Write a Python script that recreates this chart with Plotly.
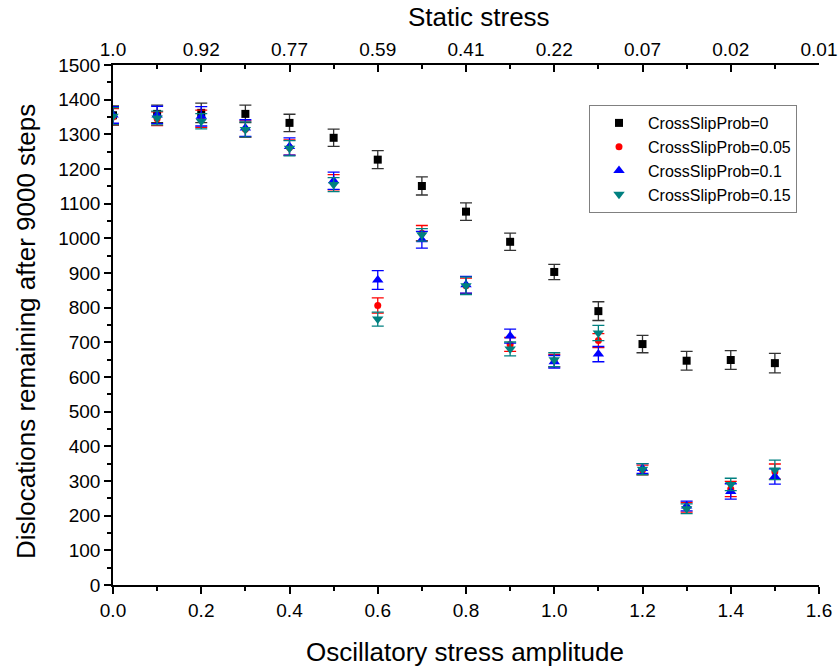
import plotly.graph_objects as go

# ---- data ----
amplitude = [0.0, 0.1, 0.2, 0.3, 0.4, 0.5, 0.6, 0.7, 0.8, 0.9, 1.0, 1.1, 1.2, 1.3, 1.4, 1.5]

csp_0 = [1355, 1359, 1362, 1359, 1333, 1290, 1227, 1151, 1077, 990, 903, 790, 695, 647, 649, 640]
err_0 = [27, 25, 28, 25, 25, 25, 26, 26, 25, 25, 22, 27, 25, 27, 27, 28]

csp_005 = [1350, 1345, 1345, 1315, 1262, 1162, 806, 1015, 863, 694, 647, 705, 332, 224, 277, 327]
err_005 = [24, 20, 25, 24, 22, 22, 22, 22, 22, 20, 18, 20, 14, 14, 22, 22]

csp_010 = [1356, 1356, 1352, 1318, 1265, 1166, 880, 996, 866, 718, 644, 666, 336, 228, 270, 313]
err_010 = [24, 25, 28, 24, 25, 25, 27, 24, 24, 20, 18, 22, 14, 14, 22, 22]

csp_015 = [1352, 1347, 1338, 1314, 1260, 1155, 767, 1010, 863, 681, 650, 727, 334, 220, 290, 332]
err_015 = [25, 20, 22, 22, 22, 20, 20, 18, 25, 20, 20, 22, 16, 14, 18, 28]

bottom_ticks = [0.0, 0.2, 0.4, 0.6, 0.8, 1.0, 1.2, 1.4, 1.6]
top_tick_labels = ["1.0", "0.92", "0.77", "0.59", "0.41", "0.22", "0.07", "0.02", "0.01"]

series = [
    ("CrossSlipProb=0", csp_0, err_0, "#000000", "#333333", "square", 8),
    ("CrossSlipProb=0.05", csp_005, err_005, "#ff0000", "#ff0000", "circle", 7),
    ("CrossSlipProb=0.1", csp_010, err_010, "#0000ff", "#0000ff", "triangle-up", 10),
    ("CrossSlipProb=0.15", csp_015, err_015, "#008080", "#008080", "triangle-down", 10),
]

FONT = "Liberation Sans, Arial, sans-serif"
L, R, T, B = 113, 20, 65, 87
W, H = 839, 672
PW, PH = W - L - R, H - T - B

def px_x(p):
    return (p - L) / PW

def px_y(p):
    return (H - B - p) / PH

fig = go.Figure()
for name, vals, errs, col, ecol, sym, size in series:
    fig.add_trace(go.Scatter(
        x=amplitude, y=vals, mode="markers", name=name,
        marker=dict(color=col, symbol=sym, size=size, line=dict(width=0)),
        error_y=dict(type="data", array=errs, visible=True, color=ecol,
                     thickness=1.3, width=6),
    ))

# invisible trace to bind the top (static stress) axis
fig.add_trace(go.Scatter(x=[bottom_ticks[0], bottom_ticks[-1]], y=[None, None],
                         xaxis="x2", mode="markers", showlegend=False,
                         hoverinfo="skip"))

axis_common = dict(showline=True, linecolor="black", linewidth=1.5,
                   showgrid=False, zeroline=False, automargin=False,
                   tickcolor="black", tickwidth=1.5,
                   tickfont=dict(family=FONT, size=19, color="black"))

fig.update_layout(
    width=W, height=H, autosize=False,
    margin=dict(l=L, r=R, t=T, b=B, autoexpand=False),
    paper_bgcolor="white", plot_bgcolor="white",
    font=dict(family=FONT, color="black"),
    xaxis=dict(range=[0, 1.6], tickvals=bottom_ticks,
               ticktext=[f"{v:.1f}" for v in bottom_ticks],
               ticks="outside", ticklen=7,
               minor=dict(dtick=0.1, tick0=0, ticks="outside", ticklen=4,
                          tickcolor="black", tickwidth=1.5),
               **axis_common),
    xaxis2=dict(range=[0, 1.6], overlaying="x", side="top", anchor="y",
                tickvals=bottom_ticks, ticktext=top_tick_labels,
                ticks="inside", ticklen=7,
                minor=dict(dtick=0.1, tick0=0, ticks="inside", ticklen=4,
                           tickcolor="black", tickwidth=1.5),
                **axis_common),
    yaxis=dict(range=[0, 1500], dtick=100, tick0=0,
               ticks="outside", ticklen=7,
               minor=dict(dtick=50, tick0=0, ticks="outside", ticklen=4,
                          tickcolor="black", tickwidth=1.5),
               **axis_common),
    legend=dict(x=px_x(589), y=px_y(105), xanchor="left", yanchor="top",
                bgcolor="white", bordercolor="#808080", borderwidth=1,
                font=dict(family=FONT, size=16, color="black"),
                tracegroupgap=0, itemwidth=48),
    showlegend=True,
    annotations=[
        dict(text="Oscillatory stress amplitude", xref="paper", yref="paper",
             x=px_x(465), y=px_y(652), xanchor="center", yanchor="middle",
             showarrow=False, font=dict(family=FONT, size=26, color="black")),
        dict(text="Static stress", xref="paper", yref="paper",
             x=px_x(479), y=px_y(17), xanchor="center", yanchor="middle",
             showarrow=False, font=dict(family=FONT, size=26, color="black")),
        dict(text="Dislocations remaining after 9000 steps", xref="paper",
             yref="paper", x=px_x(26), y=px_y(332), xanchor="center",
             yanchor="middle", textangle=-90, showarrow=False,
             font=dict(family=FONT, size=26, color="black")),
    ],
)

fig.write_html("out.html", config={"responsive": False})
